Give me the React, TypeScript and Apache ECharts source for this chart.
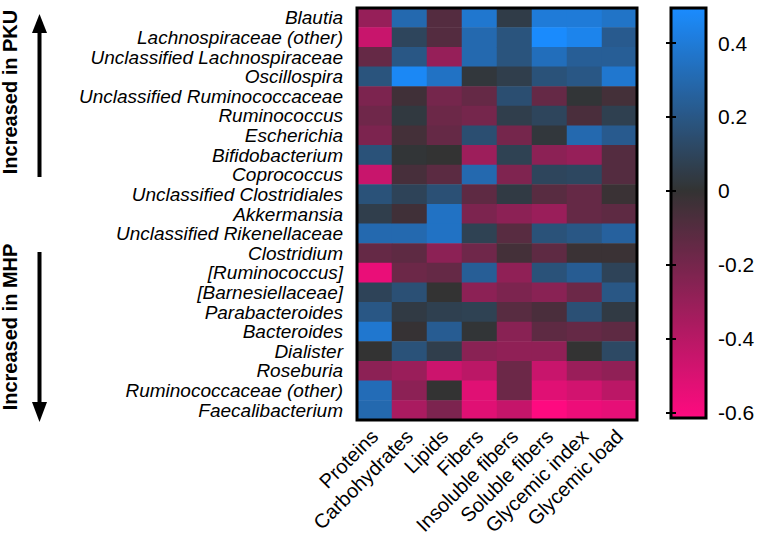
import React, { useEffect, useRef } from "react";
import * as echarts from "echarts";

const taxa = [
  "Blautia",
  "Lachnospiraceae (other)",
  "Unclassified Lachnospiraceae",
  "Oscillospira",
  "Unclassified Ruminococcaceae",
  "Ruminococcus",
  "Escherichia",
  "Bifidobacterium",
  "Coprococcus",
  "Unclassified Clostridiales",
  "Akkermansia",
  "Unclassified Rikenellaceae",
  "Clostridium",
  "[Ruminococcus]",
  "[Barnesiellaceae]",
  "Parabacteroides",
  "Bacteroides",
  "Dialister",
  "Roseburia",
  "Ruminococcaceae (other)",
  "Faecalibacterium",
];

const nutrients = [
  "Proteins",
  "Carbohydrates",
  "Lipids",
  "Fibers",
  "Insoluble fibers",
  "Soluble fibers",
  "Glycemic index",
  "Glycemic load",
];

const proteins = [-0.3, -0.45, -0.15, 0.18, -0.22, -0.18, -0.22, 0.17, -0.45, 0.17, 0.06, 0.3, -0.15, -0.55, 0.09, 0.2, 0.38, 0, -0.27, 0.32, 0.3];
const carbohydrates = [0.3, 0.1, 0.2, 0.47, -0.04, 0.03, -0.05, 0.01, -0.06, 0.09, -0.04, 0.3, -0.13, -0.17, 0.16, 0.04, -0.01, 0.17, -0.31, -0.27, -0.36];
const lipids = [-0.1, -0.1, -0.3, 0.35, -0.2, -0.17, -0.15, 0, -0.12, 0.16, 0.35, 0.35, -0.27, -0.15, 0, 0.07, 0.23, 0.06, -0.46, 0, -0.22];
const fibers = [0.38, 0.3, 0.3, 0.02, -0.15, -0.2, 0.15, -0.32, 0.3, -0.13, -0.22, 0.08, -0.18, 0.24, -0.27, 0.08, 0.01, -0.26, -0.41, -0.52, -0.52];
const insolubleFibers = [0.05, 0.18, 0.18, 0.06, 0.15, 0.06, -0.2, 0.08, -0.23, 0.04, -0.27, -0.11, -0.05, -0.28, -0.22, -0.11, -0.26, -0.28, -0.17, -0.17, -0.44];
const solubleFibers = [0.4, 0.49, 0.33, 0.17, -0.15, 0.1, 0.02, -0.27, 0.1, -0.11, -0.31, 0.17, -0.13, 0.17, -0.26, -0.07, -0.13, -0.28, -0.45, -0.52, -0.61];
const glycemicIndex = [0.4, 0.45, 0.24, 0.2, 0.01, -0.07, 0.3, -0.3, 0.11, -0.15, -0.15, 0.2, -0.02, 0.23, -0.17, 0.16, -0.15, 0, -0.31, -0.48, -0.56];
const glycemicLoad = [0.36, 0.22, 0.24, 0.38, -0.05, 0.07, 0.22, -0.1, -0.1, -0.02, -0.13, 0.26, -0.02, 0.09, 0.2, 0.04, -0.13, 0.12, -0.28, -0.41, -0.54];

const columns = [proteins, carbohydrates, lipids, fibers, insolubleFibers, solubleFibers, glycemicIndex, glycemicLoad];

const scaleMin = -0.615;
const scaleMax = 0.495;
const colorbarTicks = [-0.6, -0.4, -0.2, 0, 0.2, 0.4];

const NEG = [255, 10, 128];
const MID = [51, 51, 51];
const POS = [26, 140, 255];

function colorAt(v: number): string {
  let a: number[], b: number[], t: number;
  if (v >= 0) {
    a = MID; b = POS; t = Math.min(1, v / scaleMax);
  } else {
    a = MID; b = NEG; t = Math.min(1, v / scaleMin);
  }
  const c = a.map((x, i) => Math.round(x + (b[i] - x) * t));
  return `rgb(${c[0]},${c[1]},${c[2]})`;
}

const STEPS = 111;
const paletteStops: string[] = [];
for (let i = 0; i < STEPS; i++) {
  paletteStops.push(colorAt(scaleMin + ((scaleMax - scaleMin) * i) / (STEPS - 1)));
}

const FONT = "'Liberation Sans', Arial, Helvetica, sans-serif";

const G = { left: 357, top: 8, width: 280, height: 412 };
const CB = { left: 671, top: 8, width: 35, height: 410 };

export default function App() {
  const ref = useRef<HTMLDivElement>(null);
  useEffect(() => {
    if (!ref.current) return;
    const chart = echarts.init(ref.current, undefined, { renderer: "svg" });

    const heatData: number[][] = [];
    columns.forEach((col, ci) => {
      col.forEach((v, ri) => heatData.push([ci, ri, v]));
    });

    const gradientStops = [];
    for (let i = 0; i < STEPS; i++) {
      const off = i / (STEPS - 1);
      const v = scaleMax - (scaleMax - scaleMin) * off;
      gradientStops.push({ offset: off, color: colorAt(v) });
    }

    const option: any = {
      animation: false,
      backgroundColor: "#ffffff",
      textStyle: { fontFamily: FONT },
      grid: [
        { left: G.left, top: G.top, width: G.width, height: G.height, containLabel: false },
        { left: CB.left, top: CB.top, width: CB.width, height: CB.height, containLabel: false },
      ],
      xAxis: [
        {
          type: "category",
          gridIndex: 0,
          data: nutrients,
          axisLine: { show: false },
          axisTick: { show: false },
          splitLine: { show: false },
          axisLabel: {
            rotate: 45,
            margin: 13,
            fontSize: 20,
            lineHeight: 19,
            color: "#000",
            fontFamily: FONT,
            interval: 0,
          },
        },
        { type: "value", gridIndex: 1, min: 0, max: 1, show: false },
      ],
      yAxis: [
        {
          type: "category",
          gridIndex: 0,
          data: taxa,
          inverse: true,
          axisLine: { show: false },
          axisTick: { show: false },
          splitLine: { show: false },
          axisLabel: {
            margin: 14,
            fontSize: 19,
            lineHeight: 19,
            fontStyle: "italic",
            color: "#000",
            fontFamily: FONT,
            interval: 0,
          },
        },
        {
          type: "value",
          gridIndex: 1,
          min: scaleMin,
          max: scaleMax,
          position: "right",
          z: 10,
          axisLine: { show: false },
          splitLine: { show: false },
          axisTick: {
            show: true,
            inside: true,
            length: 5,
            lineStyle: { color: "#000", width: 2 },
            customValues: colorbarTicks,
          },
          axisLabel: {
            margin: 12,
            fontSize: 21,
            color: "#000",
            fontFamily: FONT,
            customValues: colorbarTicks,
            formatter: (v: number) => String(Math.round(v * 10) / 10),
          },
        },
        {
          type: "value",
          gridIndex: 1,
          min: scaleMin,
          max: scaleMax,
          position: "left",
          z: 10,
          axisLine: { show: false },
          splitLine: { show: false },
          axisTick: {
            show: true,
            inside: true,
            length: 5,
            lineStyle: { color: "#000", width: 2 },
            customValues: colorbarTicks,
          },
          axisLabel: { show: false },
        },
      ],
      visualMap: {
        type: "continuous",
        show: false,
        min: scaleMin,
        max: scaleMax,
        seriesIndex: 0,
        dimension: 2,
        inRange: { color: paletteStops },
      },
      series: [
        {
          type: "heatmap",
          xAxisIndex: 0,
          yAxisIndex: 0,
          data: heatData,
          itemStyle: { borderWidth: 0 },
          emphasis: { disabled: true },
        },
        {
          type: "custom",
          xAxisIndex: 1,
          yAxisIndex: 1,
          silent: true,
          data: [[0, scaleMin, scaleMax]],
          renderItem: (params: any, api: any) => {
            const top = api.coord([0, api.value(2)]);
            const bottom = api.coord([1, api.value(1)]);
            return {
              type: "rect",
              shape: { x: top[0], y: top[1], width: bottom[0] - top[0], height: bottom[1] - top[1] },
              style: {
                fill: new echarts.graphic.LinearGradient(0, 0, 0, 1, gradientStops),
                stroke: "none",
              },
            };
          },
        },
      ],
      graphic: [
        {
          type: "rect",
          z: 100,
          shape: { x: G.left, y: G.top, width: G.width, height: G.height },
          style: { fill: "none", stroke: "#000", lineWidth: 3 },
        },
        {
          type: "rect",
          z: 100,
          shape: { x: CB.left, y: CB.top, width: CB.width, height: CB.height },
          style: { fill: "none", stroke: "#000", lineWidth: 3 },
        },
        {
          type: "text",
          x: 10,
          y: 92,
          rotation: Math.PI / 2,
          style: {
            text: "Increased in PKU",
            font: `bold 20px ${FONT}`,
            fill: "#000",
            align: "center",
            verticalAlign: "middle",
          },
        },
        {
          type: "text",
          x: 10,
          y: 327,
          rotation: Math.PI / 2,
          style: {
            text: "Increased in MHP",
            font: `bold 20px ${FONT}`,
            fill: "#000",
            align: "center",
            verticalAlign: "middle",
          },
        },
        {
          type: "line",
          shape: { x1: 39.5, y1: 177, x2: 39.5, y2: 30 },
          style: { stroke: "#000", lineWidth: 4 },
        },
        {
          type: "polygon",
          shape: { points: [[39.5, 14], [32, 33], [47, 33]] },
          style: { fill: "#000" },
        },
        {
          type: "line",
          shape: { x1: 39.5, y1: 252, x2: 39.5, y2: 405 },
          style: { stroke: "#000", lineWidth: 4 },
        },
        {
          type: "polygon",
          shape: { points: [[39.5, 422], [32, 402], [47, 402]] },
          style: { fill: "#000" },
        },
      ],
    };

    chart.setOption(option);
    return () => chart.dispose();
  }, []);

  return (
    <div
      ref={ref}
      style={{ position: "fixed", left: 0, top: 0, width: 765, height: 551 }}
    />
  );
}
